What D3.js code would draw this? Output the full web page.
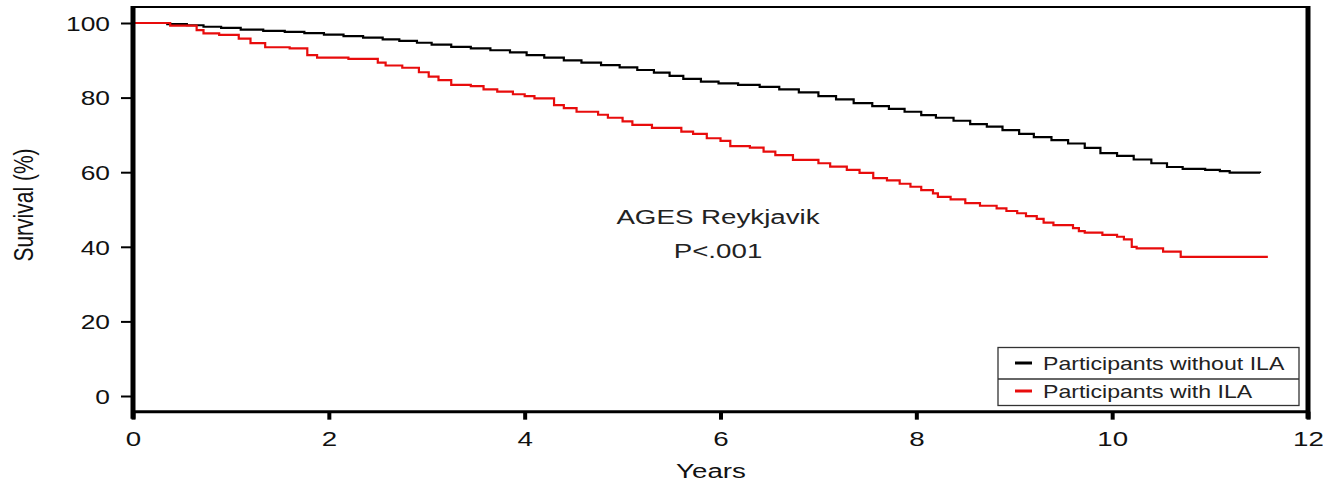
<!DOCTYPE html>
<html><head><meta charset="utf-8">
<script src="https://cdn.jsdelivr.net/npm/d3@7/dist/d3.min.js"></script>
<style>body{margin:0;background:#fff}svg{display:block;font-family:"Liberation Sans",Arial,sans-serif}</style>
</head><body><svg id="c" width="1323" height="483"></svg>
<script>
// ---- data ----
const xTicks = [0, 2, 4, 6, 8, 10, 12];
const yTicks = [0, 20, 40, 60, 80, 100];
const seriesNames = ["Participants without ILA", "Participants with ILA"];
const withoutILA = [
  [0,100],[0.35,99.7],[0.55,99.4],[0.72,99.0],[0.90,98.7],[1.10,98.2],[1.33,97.9],[1.55,97.6],
  [1.75,97.3],[1.95,96.9],[2.15,96.5],[2.35,96.1],[2.55,95.6],[2.72,95.2],[2.90,94.7],[3.05,94.2],
  [3.25,93.6],[3.45,93.2],[3.65,92.7],[3.85,92.1],[4.02,91.4],[4.20,90.7],[4.40,90.0],[4.58,89.4],
  [4.78,88.7],[4.97,88.1],[5.15,87.4],[5.32,86.7],[5.48,85.8],[5.62,85.0],[5.80,84.3],[5.98,83.8],
  [6.18,83.4],[6.40,82.9],[6.60,82.2],[6.80,81.4],[7.00,80.4],[7.18,79.5],[7.36,78.5],[7.55,77.7],
  [7.72,77.0],[7.88,76.2],[8.05,75.3],[8.20,74.6],[8.38,73.8],[8.55,72.9],[8.72,72.2],[8.88,71.3],
  [9.05,70.3],[9.20,69.4],[9.38,68.6],[9.55,67.7],[9.72,66.5],[9.88,65.1],[10.05,64.4],[10.22,63.4],
  [10.40,62.4],[10.56,61.4],[10.72,60.9],[10.95,60.6],[11.10,60.3],[11.20,59.9],[11.51,59.8]
];
const withILA = [
  [0,100],[0.38,99.3],[0.65,98.1],[0.72,97.2],[0.88,96.8],[1.08,95.8],[1.2,94.6],[1.35,93.5],[1.6,93.2],
  [1.78,91.4],[1.88,90.7],[2.2,90.4],[2.5,89.4],[2.58,88.6],[2.75,88.0],[2.92,86.8],[3.02,85.6],[3.12,84.7],
  [3.25,83.4],[3.45,83.1],[3.58,82.2],[3.72,81.6],[3.88,80.9],[4.0,80.4],[4.1,79.8],[4.3,78.0],[4.4,77.2],
  [4.53,76.2],[4.75,75.4],[4.85,74.6],[5.0,73.6],[5.1,72.7],[5.3,71.9],[5.6,70.9],[5.72,70.3],[5.86,69.1],
  [6.0,68.4],[6.1,67.0],[6.3,66.6],[6.44,65.5],[6.56,64.6],[6.74,63.3],[7.0,62.4],[7.12,61.5],[7.29,60.6],
  [7.42,59.8],[7.56,58.4],[7.7,57.8],[7.83,56.9],[7.94,56.1],[8.05,55.2],[8.17,54.3],[8.22,53.4],[8.35,52.7],
  [8.5,51.7],[8.65,51.0],[8.82,50.3],[8.92,49.6],[9.03,49.0],[9.12,48.2],[9.23,47.5],[9.3,46.5],[9.4,45.8],
  [9.6,45.0],[9.66,44.2],[9.72,43.8],[9.9,43.2],[10.05,42.7],[10.12,42.0],[10.2,40.0],[10.25,39.6],
  [10.52,38.7],[10.7,37.3],[11.59,37.3]
];
const colors = ["#000000", "#e80c0c"];
const titleText = "AGES Reykjavik";
const pText = "P<.001";

// ---- layout ----
const SX = 1.32; // horizontal glyph stretch of the original
const svg = d3.select("#c");
const x = d3.scaleLinear().domain([0, 12]).range([133, 1308]);
const y = d3.scaleLinear().domain([0, 100]).range([396, 23]);
const yTop = y(104.3), yBot = y(-4.2);

function stext(px, py, str, size, anchor, fill, rot) {
  const g = svg.append("g").attr("transform", `translate(${px},${py}) scale(${SX},1)` + (rot ? ` rotate(${rot})` : ""));
  return g.append("text").attr("text-anchor", anchor).attr("font-size", size).attr("fill", fill).text(str);
}

// curves
const line = d3.line().x(d => x(d[0])).y(d => y(d[1])).curve(d3.curveStepAfter);
[withoutILA, withILA].forEach((s, i) => {
  svg.append("path").datum(s).attr("d", line).attr("fill", "none")
    .attr("stroke", colors[i]).attr("stroke-width", 2.2);
});

// frame
svg.append("line").attr("x1", x(0)).attr("x2", x(12)).attr("y1", yTop).attr("y2", yTop).attr("stroke", "#000").attr("stroke-width", 2);
svg.append("line").attr("x1", x(0)).attr("x2", x(12)).attr("y1", yBot).attr("y2", yBot).attr("stroke", "#000").attr("stroke-width", 3);
svg.append("line").attr("x1", x(0)).attr("x2", x(0)).attr("y1", yTop - 1).attr("y2", yBot + 7).attr("stroke", "#000").attr("stroke-width", 5);
svg.append("line").attr("x1", x(12)).attr("x2", x(12)).attr("y1", yTop - 1).attr("y2", yBot + 7).attr("stroke", "#000").attr("stroke-width", 5);

// y axis
const ya = svg.append("g").attr("transform", `translate(${x(0)},0)`)
  .call(d3.axisLeft(y).tickValues(yTicks).tickSize(12).tickSizeOuter(0));
ya.select(".domain").remove();
ya.selectAll(".tick line").attr("stroke", "#000").attr("stroke-width", 2);
ya.selectAll(".tick text").attr("font-size", 20).attr("fill", "#111")
  .attr("font-family", "'Liberation Sans',Arial,sans-serif")
  .attr("x", -23 / SX).attr("dy", "0.36em").attr("transform", `scale(${SX},1)`);

// x axis
const xa = svg.append("g").attr("transform", `translate(0,${yBot})`)
  .call(d3.axisBottom(x).tickValues(xTicks).tickSize(8).tickSizeOuter(0));
xa.select(".domain").remove();
xa.selectAll(".tick line").attr("stroke", "#000").attr("stroke-width", 4);
xa.selectAll(".tick text").attr("font-size", 21).attr("fill", "#111")
  .attr("font-family", "'Liberation Sans',Arial,sans-serif")
  .attr("y", 34.5).attr("dy", 0).attr("transform", `scale(${SX},1)`);

// axis titles
stext(711, 478, "Years", 21, "middle", "#111");
stext(33, 205, "Survival (%)", 21, "middle", "#111", -90);

// annotation
stext(718, 224, titleText, 21, "middle", "#222");
stext(718, 258, pText, 21, "middle", "#222");

// legend
const lg = svg.append("g");
lg.append("rect").attr("x", 998).attr("y", 347.5).attr("width", 301).attr("height", 58)
  .attr("fill", "#fff").attr("stroke", "#333").attr("stroke-width", 1.3);
lg.append("line").attr("x1", 998).attr("x2", 1299).attr("y1", 379).attr("y2", 379).attr("stroke", "#333").attr("stroke-width", 1.3);
seriesNames.forEach((n, i) => {
  const cy = 363 + i * 28;
  lg.append("line").attr("x1", 1015).attr("x2", 1032).attr("y1", cy).attr("y2", cy)
    .attr("stroke", colors[i]).attr("stroke-width", 3);
  stext(1043, cy + 7, n, 17.5, "start", "#222");
});
</script></body></html>
